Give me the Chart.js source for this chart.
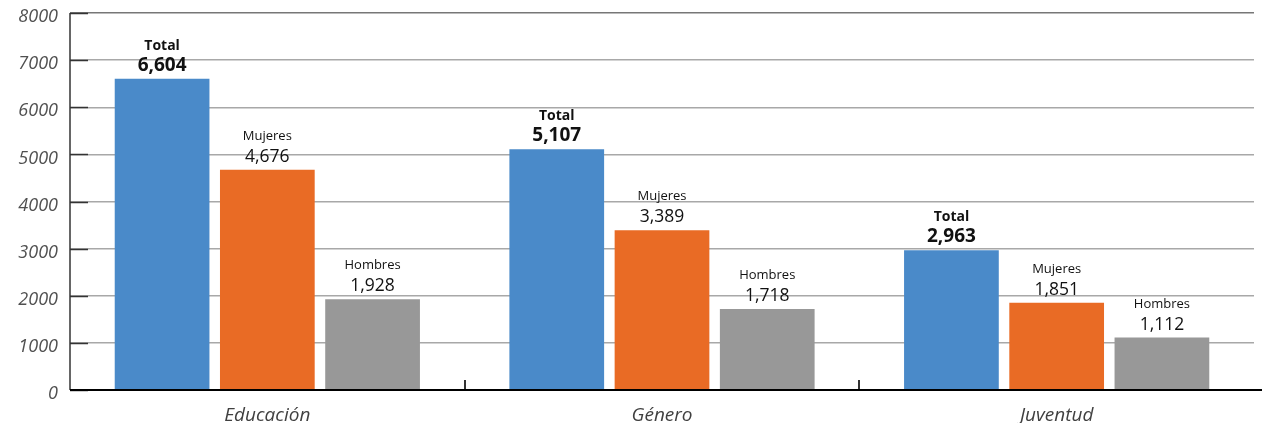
<!DOCTYPE html>
<html>
<head>
<meta charset="utf-8">
<script src="https://cdn.jsdelivr.net/npm/chart.js@4.4.0/dist/chart.umd.min.js"></script>
<style>
  html, body { margin: 0; padding: 0; background: #fff; }
  #wrap { width: 1262px; height: 423px; }
</style>
</head>
<body>
<div id="wrap"><canvas id="c"></canvas></div>
<script>
// data
var categories = ['Educación', 'Género', 'Juventud'];
var seriesNames = ['Total', 'Mujeres', 'Hombres'];
var total = [6604, 5107, 2963];
var mujeres = [4676, 3389, 1851];
var hombres = [1928, 1718, 1112];
var colors = ['#4a8ac9', '#e96b25', '#989898'];

var FONT = '"Open Sans", "Noto Sans", sans-serif';

function fmt(v) { return v.toLocaleString('en-US'); }

// labels above bars: series name + value
var barLabels = {
  id: 'barLabels',
  afterDatasetsDraw: function(chart) {
    var ctx = chart.ctx;
    ctx.save();
    ctx.textAlign = 'center';
    ctx.textBaseline = 'alphabetic';
    ctx.fillStyle = '#111';
    chart.data.datasets.forEach(function(ds, i) {
      var meta = chart.getDatasetMeta(i);
      var bold = i === 0;
      meta.data.forEach(function(bar, j) {
        var v = ds.data[j];
        ctx.font = (bold ? 'bold 19px ' : '17.5px ') + FONT;
        ctx.fillText(fmt(v), bar.x, bar.y - 8);
        ctx.font = (bold ? 'bold 14px ' : '13px ') + FONT;
        ctx.fillText(ds.label, bar.x, bar.y - (bold ? 29 : 30));
      });
    });
    ctx.restore();
  }
};

// inner tick marks and the black base line
var axisMarks = {
  id: 'axisMarks',
  afterDraw: function(chart) {
    var ctx = chart.ctx, a = chart.chartArea;
    var y = chart.scales.y, x = chart.scales.x;
    ctx.save();
    ctx.strokeStyle = '#333';
    ctx.lineWidth = 1.5;
    y.ticks.forEach(function(t) {
      var py = Math.round(y.getPixelForValue(t.value)) + 0.5;
      ctx.beginPath(); ctx.moveTo(a.left, py); ctx.lineTo(a.left + 18, py); ctx.stroke();
    });
    ctx.beginPath(); ctx.moveTo(a.left, a.top); ctx.lineTo(a.left, a.bottom); ctx.stroke();
    ctx.lineWidth = 2;
    for (var k = 1; k < categories.length; k++) {
      var px = Math.round((x.getPixelForValue(k - 1) + x.getPixelForValue(k)) / 2);
      ctx.beginPath(); ctx.moveTo(px, a.bottom); ctx.lineTo(px, a.bottom - 10); ctx.stroke();
    }
    ctx.strokeStyle = '#000';
    ctx.lineWidth = 2;
    ctx.beginPath(); ctx.moveTo(a.left, a.bottom); ctx.lineTo(chart.width, a.bottom); ctx.stroke();
    ctx.restore();
  }
};

var series = [total, mujeres, hombres];
new Chart(document.getElementById('c'), {
  type: 'bar',
  data: {
    labels: categories,
    datasets: series.map(function(d, i) {
      return { label: seriesNames[i], data: d, backgroundColor: colors[i],
               categoryPercentage: 0.8, barPercentage: 0.9 };
    })
  },
  options: {
    responsive: true,
    maintainAspectRatio: false,
    animation: false,
    layout: { padding: { top: 13, right: 8, left: 0, bottom: 0 } },
    plugins: { legend: { display: false }, tooltip: { enabled: false } },
    scales: {
      x: {
        grid: { display: false },
        border: { display: false },
        ticks: { color: '#404040', font: { family: FONT, size: 19, style: 'italic' }, padding: 6 },
        afterFit: function(s) { s.height = 33; s.paddingLeft = 0; s.paddingRight = 0; }
      },
      y: {
        min: 0, max: 8000,
        ticks: { stepSize: 1000, color: '#505050', padding: 12, labelOffset: 4,
                 font: { family: FONT, size: 18, style: 'italic' },
                 callback: function(v) { return String(v); } },
        grid: { drawTicks: false, color: function(c) { return c.tick.value === 8000 ? '#777' : '#a8a8a8'; }, lineWidth: 1.5 },
        border: { display: false },
        afterFit: function(s) { s.width = 70; s.paddingTop = 0; s.paddingBottom = 0; }
      }
    }
  },
  plugins: [barLabels, axisMarks]
});
</script>
</body>
</html>
